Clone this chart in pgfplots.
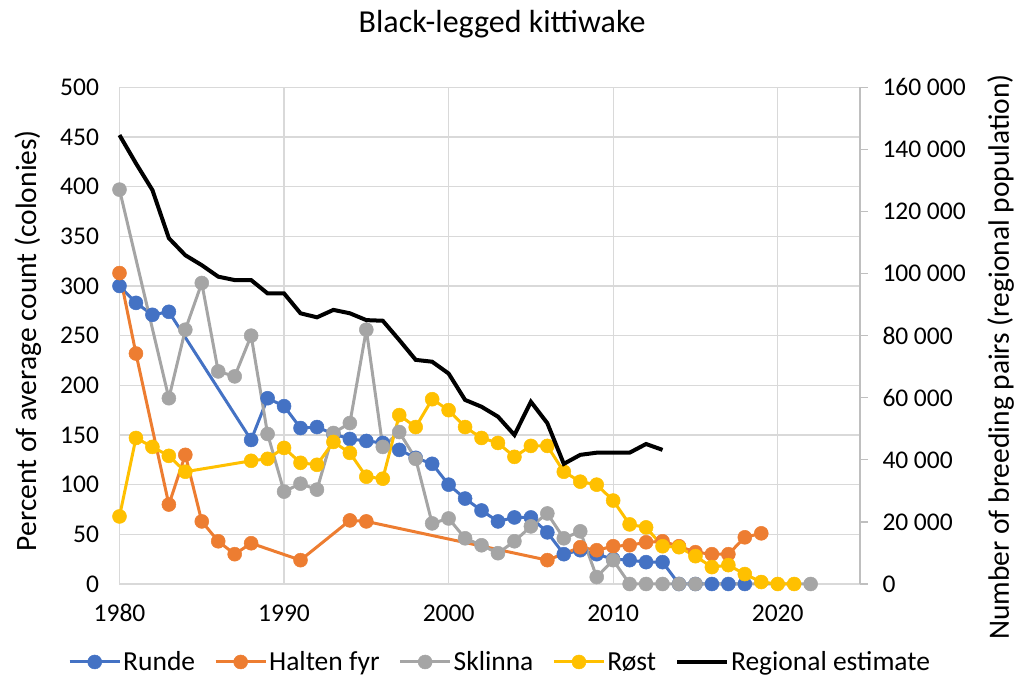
\documentclass[border=0pt]{standalone}
\usepackage{fontspec}
\setmainfont{Carlito}
\usepackage{pgfplots}
\pgfplotsset{compat=1.18}
\definecolor{cblue}{HTML}{4472C4}
\definecolor{corange}{HTML}{ED7D31}
\definecolor{cgray}{HTML}{A5A5A5}
\definecolor{cyellow}{HTML}{FFC000}
\definecolor{cgrid}{HTML}{D9D9D9}
\definecolor{caxis}{HTML}{BFBFBF}
\pgfplotsset{
  ser/.style={color=#1, line width=3pt, mark=*, mark size=7pt, mark options={solid, fill=#1, draw=#1, line width=0.5pt}},
  tick label style={font=\fontsize{25.5}{30}\selectfont},
  /pgf/number format/assume math mode=true,
  legend image code/.code={\draw[mark repeat=2,mark phase=2,#1] plot coordinates {(0pt,0pt)(25pt,0pt)(50pt,0pt)};},
}
\begin{document}
\begin{tikzpicture}
\useasboundingbox (-119.5pt,-96pt) rectangle (898.5pt,584pt);
\begin{axis}[
  at={(0pt,0pt)}, anchor=south west,
  scale only axis, width=740.5pt, height=496.7pt,
  xmin=1980, xmax=2025, ymin=0, ymax=500,
  xtick={1980,1990,2000,2010,2020}, ytick={0,50,...,500},
  grid=major, major grid style={cgrid, line width=1.3pt},
  axis line style={draw=none}, major tick length=0pt,
  x tick label style={/pgf/number format/1000 sep={}, yshift=-17pt},
  y tick label style={xshift=-17pt},
  title={Black-legged kittiwake},
  title style={font=\fontsize{32}{38}\selectfont, at={(axis description cs:0.5166,1.099)}, anchor=base},
  ylabel={Percent of average count (colonies)},
  ylabel style={font=\fontsize{29.5}{34}\selectfont, at={(axis description cs:-0.1236,0.49)}, anchor=center},
  clip=false,
]
\addplot[ser=cblue] coordinates {
(1980,300) (1981,283) (1982,271) (1983,274) (1988,145) (1989,187) (1990,179)
(1991,157) (1992,158) (1993,151) (1994,146) (1995,144) (1996,142) (1997,135)
(1998,127) (1999,121) (2000,100) (2001,86) (2002,74) (2003,63) (2004,67)
(2005,67) (2006,52) (2007,30) (2008,34) (2009,30) (2010,25) (2011,24)
(2012,22) (2013,22) (2014,0) (2015,0) (2016,0) (2017,0) (2018,0)
};
\addplot[ser=corange] coordinates {
(1980,313) (1981,232) (1983,80) (1984,130) (1985,63) (1986,43) (1987,30)
(1988,41) (1991,24) (1994,64) (1995,63) (2006,24) (2008,37) (2009,34)
(2010,38) (2011,39) (2012,42) (2013,43) (2014,38) (2015,32) (2016,30)
(2017,30) (2018,47) (2019,51)
};
\addplot[ser=cgray] coordinates {
(1980,397) (1983,187) (1984,256) (1985,303) (1986,214) (1987,209) (1988,250)
(1989,151) (1990,93) (1991,101) (1992,95) (1993,152) (1994,162) (1995,256)
(1996,138) (1997,153) (1998,126) (1999,61) (2000,66) (2001,46) (2002,39)
(2003,31) (2004,43) (2005,58) (2006,71) (2007,46) (2008,53) (2009,7)
(2010,24) (2011,0) (2012,0) (2013,0) (2014,0) (2015,0) (2022,0)
};
\addplot[ser=cyellow] coordinates {
(1980,68) (1981,147) (1982,138) (1983,129) (1984,113) (1988,124) (1989,126)
(1990,137) (1991,122) (1992,120) (1993,143) (1994,132) (1995,108) (1996,106)
(1997,170) (1998,158) (1999,186) (2000,175) (2001,158) (2002,147) (2003,142)
(2004,128) (2005,139) (2006,139) (2007,113) (2008,103) (2009,100) (2010,84)
(2011,60) (2012,57) (2013,38) (2014,37) (2015,28) (2016,17) (2017,19)
(2018,10) (2019,2) (2020,0) (2021,0)
};
\end{axis}
\begin{axis}[
  at={(0pt,0pt)}, anchor=south west,
  scale only axis, width=740.5pt, height=496.7pt,
  xmin=1980, xmax=2025, ymin=0, ymax=160000,
  axis x line=none, axis y line*=right,
  ytick={0,20000,...,160000},
  tick align=outside, major tick length=8pt,
  axis line style={caxis, line width=1.3pt},
  ytick style={caxis, line width=1.3pt},
  scaled y ticks=false,
  y tick label style={/pgf/number format/.cd, fixed, precision=0, 1000 sep={\hspace{0.22em}}, /tikz/.cd, xshift=11pt},
  ylabel={Number of breeding pairs (regional population)},
  ylabel style={font=\fontsize{29.5}{34}\selectfont, at={(axis description cs:1.19,0.457)}, anchor=center},
  legend style={at={(axis description cs:0.514,-0.157)}, anchor=center, draw=none, fill=none,
    legend columns=5, font=\fontsize{27.5}{32}\selectfont,
    /tikz/every even column/.append style={column sep=17pt}},
  clip=false,
]
\addlegendimage{ser=cblue}\addlegendentry{Runde}
\addlegendimage{ser=corange}\addlegendentry{Halten fyr}
\addlegendimage{ser=cgray}\addlegendentry{Sklinna}
\addlegendimage{ser=cyellow}\addlegendentry{Røst}
\addplot[black, line width=4pt] coordinates {
(1980,144600) (1981,135500) (1982,126900) (1983,111400) (1984,105900)
(1985,102700) (1986,99000) (1987,97900) (1988,97900) (1989,93600)
(1990,93600) (1991,87200) (1992,85900) (1993,88300) (1994,87200)
(1995,85000) (1996,84800) (1997,78600) (1998,72200) (1999,71600)
(2000,67800) (2001,59300) (2002,57100) (2003,53900) (2004,48000)
(2005,58700) (2006,51800) (2007,38700) (2008,41600) (2009,42300)
(2010,42300) (2011,42300) (2012,45100) (2013,43200)
};
\addlegendentry{Regional estimate}
\end{axis}
\end{tikzpicture}
\end{document}
